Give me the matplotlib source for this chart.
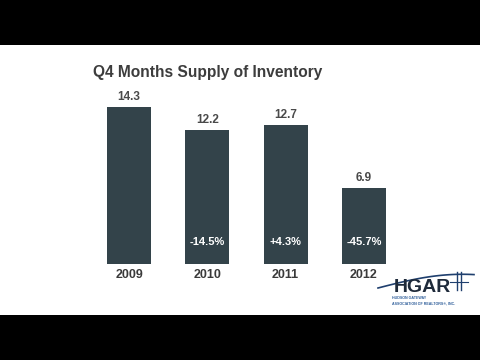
import matplotlib
matplotlib.use("Agg")
import matplotlib.pyplot as plt
from matplotlib.patches import Rectangle
import numpy as np

years = ["2009", "2010", "2011", "2012"]
values = [14.3, 12.2, 12.7, 6.9]
value_labels = ["14.3", "12.2", "12.7", "6.9"]
changes = ["", "-14.5%", "+4.3%", "-45.7%"]
title = "Q4 Months Supply of Inventory"

plt.rcParams['font.family'] = ['Liberation Sans', 'DejaVu Sans']

fig = plt.figure(figsize=(4.8, 3.6), dpi=100)
fig.patch.set_facecolor("white")

# black letterbox bands
fig.patches.append(Rectangle((0, 1 - 45/360), 1, 45/360, transform=fig.transFigure,
                             facecolor="black", edgecolor="none", zorder=0))
fig.patches.append(Rectangle((0, 0), 1, 45/360, transform=fig.transFigure,
                             facecolor="black", edgecolor="none", zorder=0))

ax = fig.add_axes([0, 45/360, 1, 270/360])
ax.set_facecolor("white")
x = np.arange(len(years))
px_per_unit_x = 78.33
ax.set_xlim(-129/px_per_unit_x, (480-129)/px_per_unit_x)
ax.set_ylim(-(315-264)/10.98, (264-45)/10.98)
ax.axis("off")

bar_color = "#33434a"
ax.bar(x, values, width=0.562, color=bar_color, edgecolor="none")

for xi, v, lab in zip(x, values, value_labels):
    ax.text(xi, v + 0.35, lab, ha="center", va="bottom", fontsize=8.5,
            fontweight="bold", color="#4a4a4a")
for xi, ch in zip(x, changes):
    if ch:
        ax.text(xi, 2.0, ch, ha="center", va="center", fontsize=8,
                fontweight="bold", color="white")
for xi, yr in zip(x, years):
    ax.text(xi, -1.0, yr, ha="center", va="center", fontsize=9,
            fontweight="bold", color="#3a3a3a")

fig.text(93/480, 1 - 73/360, title, ha="left", va="center", fontsize=11.2,
         fontweight="bold", color="#3d3d3d")

# HGAR logo (simplified)
t = np.linspace(0, 1, 50)
lx = (378 + 96 * t) / 480
ly = 1 - (288 - 12 * np.sin(t * np.pi * 0.6) - 2 * t) / 360
fig.add_artist(plt.Line2D(lx, ly, transform=fig.transFigure, color="#1f3f6e", lw=1.2))
for xx in (457, 461):
    fig.add_artist(plt.Line2D([xx/480, xx/480], [1 - 290/360, 1 - 272/360],
                              transform=fig.transFigure, color="#1f3f6e", lw=1))
fig.add_artist(plt.Line2D([450/480, 468/480], [1 - 282/360, 1 - 282/360],
                          transform=fig.transFigure, color="#1f3f6e", lw=0.8))
fig.text(422/480, 1 - 288/360, "HGAR", ha="center", va="center", fontsize=14,
         fontweight="bold", color="#1e2a3a")
fig.text(392/480, 1 - 298/360, "HUDSON GATEWAY", ha="left", va="center",
         fontsize=2.6, fontweight="bold", color="#2f5e9a")
fig.text(392/480, 1 - 303/360, "ASSOCIATION OF REALTORS®, INC.", ha="left",
         va="center", fontsize=2.6, fontweight="bold", color="#2f5e9a")

fig.savefig("out.png", dpi=100, facecolor="white")
